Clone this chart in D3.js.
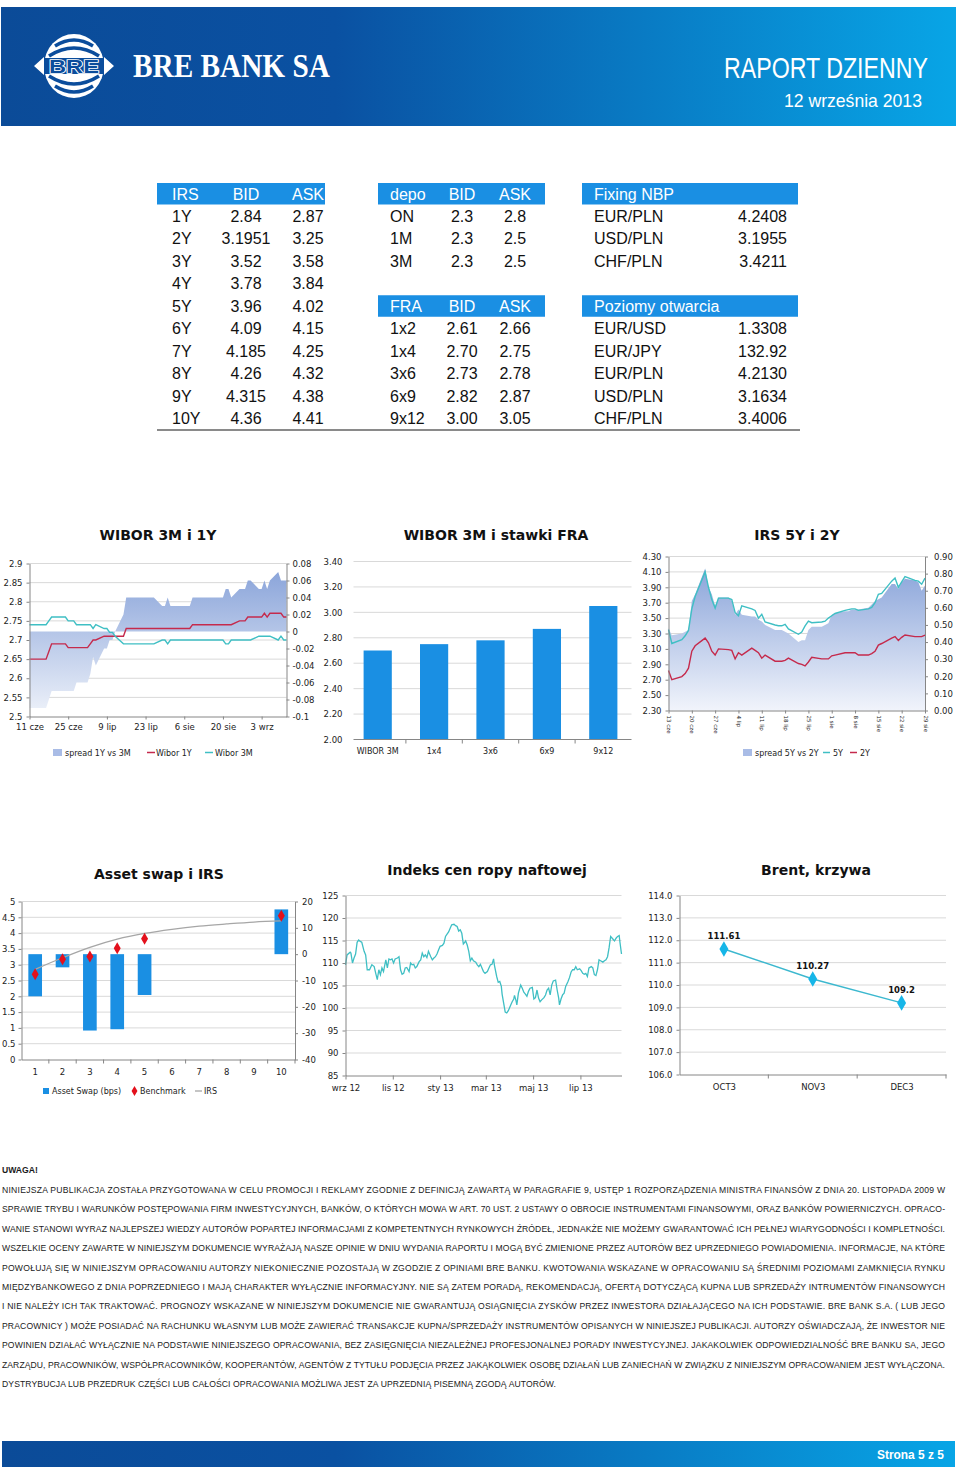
<!DOCTYPE html>
<html>
<head>
<meta charset="utf-8">
<script src="https://cdn.jsdelivr.net/npm/d3@7"></script>
<style>
  body { margin: 0; background: #fff; }
  svg { display: block; }
</style>
</head>
<body>
<svg id="page" width="960" height="1470"></svg>
<script>
// ---- tables ----
const irsTenor = ['1Y', '2Y', '3Y', '4Y', '5Y', '6Y', '7Y', '8Y', '9Y', '10Y'];
const irsBid = ['2.84', '3.1951', '3.52', '3.78', '3.96', '4.09', '4.185', '4.26', '4.315', '4.36'];
const irsAsk = ['2.87', '3.25', '3.58', '3.84', '4.02', '4.15', '4.25', '4.32', '4.38', '4.41'];
const depoTenor = ['ON', '1M', '3M'];
const depoBid = ['2.3', '2.3', '2.3'];
const depoAsk = ['2.8', '2.5', '2.5'];
const fraTenor = ['1x2', '1x4', '3x6', '6x9', '9x12'];
const fraBid = ['2.61', '2.70', '2.73', '2.82', '3.00'];
const fraAsk = ['2.66', '2.75', '2.78', '2.87', '3.05'];
const fixingPair = ['EUR/PLN', 'USD/PLN', 'CHF/PLN'];
const fixingRate = ['4.2408', '3.1955', '3.4211'];
const openPair = ['EUR/USD', 'EUR/JPY', 'EUR/PLN', 'USD/PLN', 'CHF/PLN'];
const openRate = ['1.3308', '132.92', '4.2130', '3.1634', '3.4006'];

// ---- WIBOR 3M i 1Y ----
const wiborDates = ['06-11', '06-12', '06-13', '06-14', '06-17', '06-18', '06-19', '06-20', '06-21', '06-24', '06-25', '06-26', '06-27', '06-28',
  '07-01', '07-02', '07-03', '07-04', '07-05', '07-08', '07-09', '07-10', '07-11', '07-12', '07-15', '07-16', '07-17', '07-18', '07-19',
  '07-22', '07-23', '07-24', '07-25', '07-26', '07-29', '07-30', '07-31',
  '08-01', '08-02', '08-05', '08-06', '08-07', '08-08', '08-09', '08-12', '08-13', '08-14', '08-16', '08-19', '08-20', '08-21', '08-22',
  '08-23', '08-26', '08-27', '08-28', '08-29', '08-30',
  '09-02', '09-03', '09-04', '09-05', '09-06', '09-09', '09-10', '09-11', '09-12'];
const wibor1Y = [2.65, 2.65, 2.65, 2.65, 2.65, 2.67, 2.69, 2.69, 2.69, 2.69, 2.68, 2.68, 2.68, 2.68,
  2.68, 2.68, 2.69, 2.70, 2.70, 2.71, 2.71, 2.71, 2.71, 2.71, 2.71, 2.73, 2.73, 2.73, 2.73,
  2.73, 2.73, 2.73, 2.73, 2.73, 2.73, 2.73, 2.73,
  2.73, 2.73, 2.73, 2.73, 2.73, 2.73, 2.74, 2.74, 2.74, 2.74, 2.74, 2.74, 2.74, 2.74, 2.74,
  2.74, 2.75, 2.75, 2.75, 2.76, 2.76,
  2.76, 2.76, 2.77, 2.76, 2.77, 2.77, 2.77, 2.76, 2.76];
const wibor3M = [2.74, 2.74, 2.74, 2.74, 2.74, 2.75, 2.76, 2.76, 2.76, 2.76, 2.75, 2.75, 2.75, 2.74,
  2.74, 2.74, 2.74, 2.73, 2.74, 2.73, 2.73, 2.72, 2.72, 2.71, 2.69, 2.69, 2.69, 2.69, 2.69,
  2.69, 2.69, 2.69, 2.69, 2.69, 2.70, 2.70, 2.69,
  2.70, 2.70, 2.70, 2.70, 2.70, 2.70, 2.70, 2.70, 2.70, 2.70, 2.70, 2.70, 2.70, 2.69, 2.69,
  2.70, 2.70, 2.70, 2.70, 2.70, 2.70,
  2.71, 2.71, 2.71, 2.71, 2.71, 2.70, 2.71, 2.70, 2.70];
const spread1Y3M = [-0.09, -0.09, -0.09, -0.09, -0.09, -0.08, -0.07, -0.07, -0.07, -0.07, -0.07, -0.07, -0.07, -0.06,
  -0.06, -0.06, -0.05, -0.03, -0.04, -0.02, -0.02, -0.01, -0.01, 0.00, 0.02, 0.04, 0.04, 0.04, 0.04,
  0.04, 0.04, 0.04, 0.04, 0.04, 0.03, 0.03, 0.04,
  0.03, 0.03, 0.03, 0.03, 0.03, 0.03, 0.04, 0.04, 0.04, 0.04, 0.04, 0.04, 0.04, 0.05, 0.05,
  0.04, 0.05, 0.05, 0.05, 0.06, 0.06,
  0.05, 0.05, 0.06, 0.05, 0.06, 0.07, 0.06, 0.06, 0.06];
const wiborTickDates = ['06-11', '06-25', '07-09', '07-23', '08-06', '08-20', '09-03'];
const wiborLeftTicks = [2.5, 2.55, 2.6, 2.65, 2.7, 2.75, 2.8, 2.85, 2.9];
const wiborRightTicks = [-0.1, -0.08, -0.06, -0.04, -0.02, 0, 0.02, 0.04, 0.06, 0.08];

// ---- WIBOR 3M i stawki FRA ----
const fraCategories = ['WIBOR 3M', '1x4', '3x6', '6x9', '9x12'];
const fraValues = [2.70, 2.75, 2.78, 2.87, 3.05];
const fraTicks = [2.0, 2.2, 2.4, 2.6, 2.8, 3.0, 3.2, 3.4];

// ---- IRS 5Y i 2Y ----
const irsDates = ['06-13', '06-14', '06-17', '06-18', '06-19', '06-20', '06-21', '06-24', '06-25', '06-26', '06-27', '06-28',
  '07-01', '07-02', '07-03', '07-04', '07-05', '07-08', '07-09', '07-10', '07-11', '07-12', '07-15', '07-16', '07-17', '07-18', '07-19',
  '07-22', '07-23', '07-24', '07-25', '07-26', '07-29', '07-30', '07-31',
  '08-01', '08-02', '08-05', '08-06', '08-07', '08-08', '08-09', '08-12', '08-13', '08-14', '08-15', '08-16', '08-19', '08-20', '08-21',
  '08-22', '08-23', '08-26', '08-27', '08-28', '08-29'];
const irs5Y = [3.35, 3.17, 3.22, 3.27, 3.34, 3.62, 3.78, 4.10, 3.90, 3.74,
  3.63, 3.76, 3.76, 3.74, 3.57, 3.53, 3.66, 3.62, 3.60, 3.50,
  3.55, 3.45, 3.41, 3.40, 3.40, 3.42, 3.36, 3.29, 3.32, 3.40,
  3.46, 3.44, 3.45, 3.46, 3.50, 3.53, 3.56, 3.60, 3.61, 3.62,
  3.62, 3.60, 3.62, 3.64, 3.70, 3.81, 3.82, 3.98, 4.02, 3.90,
  3.97, 4.04, 3.99, 3.98, 3.94, 4.02];
const irs2Y = [2.82, 2.70, 2.74, 2.78, 2.85, 3.07, 3.14, 3.24, 3.18, 3.07,
  3.02, 3.10, 3.09, 3.08, 2.97, 3.05, 3.02, 3.11, 3.08, 3.05,
  2.98, 3.02, 2.94, 2.94, 2.94, 2.95, 2.98, 2.91, 2.90, 2.88,
  2.93, 2.99, 2.97, 2.97, 2.97, 3.01, 3.02, 3.05, 3.05, 3.05,
  3.05, 3.02, 3.02, 3.04, 3.07, 3.15, 3.17, 3.24, 3.26, 3.21,
  3.25, 3.28, 3.26, 3.26, 3.26, 3.28];
const spread5Y2Y = [0.48, 0.44, 0.45, 0.46, 0.47, 0.64, 0.68, 0.83, 0.72, 0.68,
  0.61, 0.66, 0.66, 0.64, 0.56, 0.59, 0.56, 0.55, 0.55, 0.53,
  0.52, 0.50, 0.47, 0.47, 0.47, 0.46, 0.45, 0.40, 0.41, 0.41,
  0.47, 0.49, 0.49, 0.50, 0.51, 0.56, 0.57, 0.58, 0.58, 0.59,
  0.59, 0.59, 0.60, 0.62, 0.64, 0.65, 0.66, 0.74, 0.74, 0.71,
  0.75, 0.77, 0.76, 0.75, 0.70, 0.73];
const irsTickDates = ['06-13', '06-20', '06-27', '07-04', '07-11', '07-18', '07-25', '08-01', '08-08', '08-15', '08-22', '08-29'];
const irsLeftTicks = [2.3, 2.5, 2.7, 2.9, 3.1, 3.3, 3.5, 3.7, 3.9, 4.1, 4.3];
const irsRightTicks = [0, 0.1, 0.2, 0.3, 0.4, 0.5, 0.6, 0.7, 0.8, 0.9];

// ---- Asset swap i IRS ----
const aswTenor = [1, 2, 3, 4, 5, 6, 7, 8, 9, 10];
const aswBps = [-16, -5, -29, -28.5, -15.5, null, null, null, null, 17];
const aswBenchmark = [2.70, 3.17, 3.26, 3.52, 3.82, null, null, null, null, 4.55];
const aswIrs = [2.855, 3.22, 3.55, 3.81, 3.99, 4.12, 4.22, 4.29, 4.35, 4.385];
const aswLeftTicks = [0, 0.5, 1, 1.5, 2, 2.5, 3, 3.5, 4, 4.5, 5];
const aswRightTicks = [-40, -30, -20, -10, 0, 10, 20];

// ---- Indeks cen ropy naftowej (days counted from 1 wrz 2012) ----
const oilDay = [0, 2, 6, 7, 9, 11, 13, 15, 17, 19,
  21, 24, 26, 28, 31, 34, 37, 39, 41, 43,
  45, 47, 49, 52, 54, 56, 58, 60, 62, 64,
  67, 69, 71, 73, 75, 77, 79, 82, 84, 86,
  88, 90, 92, 95, 97, 99, 101, 103, 105, 107,
  110, 112, 114, 116, 118, 120, 122, 125, 127, 129,
  131, 133, 135, 137, 140, 142, 144, 146, 148, 150,
  152, 153, 155, 157, 159, 161, 163, 165, 168, 170,
  172, 174, 176, 178, 180, 183, 185, 187, 189, 191,
  192, 195, 197, 199, 201, 202, 204, 206, 208, 210,
  213, 215, 217, 218, 220, 221, 223, 226, 228, 230,
  232, 234, 236, 238, 241, 243, 245, 247, 249, 251,
  253, 256, 258, 260, 262, 264, 266, 268, 271, 273,
  275, 276, 278, 280, 282, 284, 287, 289, 291, 293,
  295, 297, 299, 302, 304, 306, 308, 310, 312, 314,
  317, 319, 321, 323, 325, 327, 329, 332, 334, 336,
  338, 340, 342, 344, 347, 349, 351, 353, 354, 356];
const oilPrice = [109.6, 111.8, 112.4, 112.2, 110.0, 111.1, 112.0, 114.6, 115.1, 114.8,
  114.6, 112.6, 111.8, 108.5, 108.5, 109.6, 109.2, 107.7, 106.3, 108.5,
  107.4, 108.9, 108.1, 110.7, 108.9, 110.9, 110.7, 110.9, 110.0, 110.9,
  111.1, 111.4, 108.5, 107.5, 107.7, 108.9, 109.0, 108.1, 110.0, 109.6,
  109.7, 108.9, 109.2, 110.3, 110.7, 112.2, 111.4, 111.8, 111.2, 112.6,
  111.4, 110.7, 111.1, 111.4, 112.0, 112.9, 113.7, 113.9, 114.4, 115.9,
  116.4, 116.9, 117.7, 118.5, 118.6, 118.3, 118.1, 117.1, 117.4, 116.6,
  114.2, 114.4, 114.9, 114.0, 112.6, 110.5, 111.1, 110.5, 110.2, 109.6,
  109.2, 109.7, 108.9, 108.1, 107.7, 108.1, 108.9, 109.6, 109.7, 110.9,
  109.6, 107.0, 105.7, 105.9, 104.8, 103.1, 101.1, 99.1, 98.9, 99.4,
  100.6, 101.4, 102.0, 102.8, 101.6, 100.7, 103.3, 105.1, 104.4, 103.5,
  103.1, 102.6, 103.7, 104.4, 104.6, 102.0, 102.3, 104.0, 102.2, 101.4,
  101.8, 102.3, 102.9, 104.0, 104.4, 102.9, 105.1, 106.0, 106.2, 104.0,
  102.2, 100.7, 102.0, 102.9, 103.3, 104.8, 105.9, 106.8, 108.0, 108.5,
  108.5, 109.2, 108.5, 108.7, 108.3, 107.7, 107.5, 107.7, 107.0, 108.9,
  109.2, 108.9, 107.4, 107.2, 108.5, 110.7, 110.5, 110.2, 110.5, 110.7,
  111.4, 113.4, 115.9, 115.5, 114.9, 115.5, 115.9, 116.1, 114.6, 112.0];
const oilTickDays = [0, 61, 122, 181, 242, 303];
const oilTickLabels = ['wrz 12', 'lis 12', 'sty 13', 'mar 13', 'maj 13', 'lip 13'];
const oilTicks = [85, 90, 95, 100, 105, 110, 115, 120, 125];

// ---- Brent, krzywa ----
const brentMonth = ['OCT3', 'NOV3', 'DEC3'];
const brentPrice = [111.61, 110.27, 109.2];
const brentLabel = ['111.61', '110.27', '109.2'];
const brentTicks = [106, 107, 108, 109, 110, 111, 112, 113, 114];

const disclaimer = [
  'NINIEJSZA PUBLIKACJA ZOSTAŁA PRZYGOTOWANA W CELU PROMOCJI I REKLAMY ZGODNIE Z DEFINICJĄ ZAWARTĄ W PARAGRAFIE 9, USTĘP 1 ROZPORZĄDZENIA MINISTRA FINANSÓW Z DNIA 20. LISTOPADA 2009 W',
  'SPRAWIE TRYBU I WARUNKÓW POSTĘPOWANIA FIRM INWESTYCYJNYCH, BANKÓW, O KTÓRYCH MOWA W ART. 70 UST. 2 USTAWY O OBROCIE INSTRUMENTAMI FINANSOWYMI, ORAZ BANKÓW POWIERNICZYCH. OPRACO-',
  'WANIE STANOWI WYRAZ NAJLEPSZEJ WIEDZY AUTORÓW POPARTEJ INFORMACJAMI Z KOMPETENTNYCH RYNKOWYCH ŹRÓDEŁ, JEDNAKŻE NIE MOŻEMY GWARANTOWAĆ ICH PEŁNEJ WIARYGODNOŚCI I KOMPLETNOŚCI.',
  'WSZELKIE OCENY ZAWARTE W NINIEJSZYM DOKUMENCIE WYRAŻAJĄ NASZE OPINIE W DNIU WYDANIA RAPORTU I MOGĄ BYĆ ZMIENIONE PRZEZ AUTORÓW BEZ UPRZEDNIEGO POWIADOMIENIA. INFORMACJE, NA KTÓRE',
  'POWOŁUJĄ SIĘ W NINIEJSZYM OPRACOWANIU AUTORZY NIEKONIECZNIE POZOSTAJĄ W ZGODZIE Z OPINIAMI BRE BANKU. KWOTOWANIA WSKAZANE W OPRACOWANIU SĄ ŚREDNIMI POZIOMAMI ZAMKNIĘCIA RYNKU',
  'MIĘDZYBANKOWEGO Z DNIA POPRZEDNIEGO I MAJĄ CHARAKTER WYŁĄCZNIE INFORMACYJNY. NIE SĄ ZATEM PORADĄ, REKOMENDACJĄ, OFERTĄ DOTYCZĄCĄ KUPNA LUB SPRZEDAŻY INTRUMENTÓW FINANSOWYCH',
  'I NIE NALEŻY ICH TAK TRAKTOWAĆ. PROGNOZY WSKAZANE W NINIEJSZYM DOKUMENCIE NIE GWARANTUJĄ OSIĄGNIĘCIA ZYSKÓW PRZEZ INWESTORA DZIAŁAJĄCEGO NA ICH PODSTAWIE. BRE BANK S.A. ( LUB JEGO',
  'PRACOWNICY ) MOŻE POSIADAĆ NA RACHUNKU WŁASNYM LUB MOŻE ZAWIERAĆ TRANSAKCJE KUPNA/SPRZEDAŻY INSTRUMENTÓW OPISANYCH W NINIEJSZEJ PUBLIKACJI. AUTORZY OŚWIADCZAJĄ, ŻE INWESTOR NIE',
  'POWINIEN DZIAŁAĆ WYŁĄCZNIE NA PODSTAWIE NINIEJSZEGO OPRACOWANIA, BEZ ZASIĘGNIĘCIA NIEZALEŻNEJ PROFESJONALNEJ PORADY INWESTYCYJNEJ. JAKAKOLWIEK ODPOWIEDZIALNOŚĆ BRE BANKU SA, JEGO',
  'ZARZĄDU, PRACOWNIKÓW, WSPÓŁPRACOWNIKÓW, KOOPERANTÓW, AGENTÓW Z TYTUŁU PODJĘCIA PRZEZ JAKĄKOLWIEK OSOBĘ DZIAŁAŃ LUB ZANIECHAŃ W ZWIĄZKU Z NINIEJSZYM OPRACOWANIEM JEST WYŁĄCZONA.',
  'DYSTRYBUCJA LUB PRZEDRUK CZĘŚCI LUB CAŁOŚCI OPRACOWANIA MOŻLIWA JEST ZA UPRZEDNIĄ PISEMNĄ ZGODĄ AUTORÓW.'
];

const svg = d3.select('#page');
const defs = svg.append('defs');
const FONT = '"DejaVu Sans", Verdana, sans-serif';
const SANS = '"Liberation Sans", Arial, sans-serif';
const AXIS = '#868686';
const GRID = '#d9d9d9';
const BLUE = '#1a8fe3';
const RED = '#c52a4c';
const CYAN = '#3fbfc4';
const plMonths = ['sty', 'lut', 'mar', 'kwi', 'maj', 'cze', 'lip', 'sie', 'wrz', 'paź', 'lis', 'gru'];
const parseDay = s => new Date(2013, +s.slice(0, 2) - 1, +s.slice(3, 5));
const fmtDay = d => d.getDate() + ' ' + plMonths[d.getMonth()];

function styleAxis(g, size = 8.5) {
  g.selectAll('text').attr('font-family', FONT).attr('font-size', size).attr('fill', '#222');
  g.selectAll('.tick line').attr('stroke', AXIS);
  g.select('.domain').attr('stroke', AXIS);
}

function gridLines(g, y, ticks, x0, x1) {
  g.append('g').selectAll('line').data(ticks).join('line')
    .attr('x1', x0).attr('x2', x1)
    .attr('y1', d => y(d)).attr('y2', d => y(d))
    .attr('stroke', GRID);
}

function chartTitle(text, x, y) {
  svg.append('text').attr('x', x).attr('y', y).attr('text-anchor', 'middle')
    .attr('font-family', FONT).attr('font-weight', 'bold').attr('font-size', 14).attr('fill', '#111')
    .text(text);
}

function legendText(g, text, x, y) {
  g.append('text').attr('x', x).attr('y', y).attr('font-family', FONT).attr('font-size', 8)
    .attr('fill', '#222').text(text);
}

function gradient(id, top, bottom) {
  const lg = defs.append('linearGradient').attr('id', id).attr('x1', 0).attr('y1', 0).attr('x2', 0).attr('y2', 1);
  lg.append('stop').attr('offset', '0%').attr('stop-color', top);
  lg.append('stop').attr('offset', '100%').attr('stop-color', bottom);
}

// squeezed text: natural font, scaled horizontally to the given width
function narrowText(x, y, width, size, family, weight, text) {
  const t = svg.append('text').attr('font-family', family).attr('font-weight', weight)
    .attr('font-size', size).attr('fill', '#fff').text(text);
  const w = t.node().getComputedTextLength();
  t.attr('transform', `translate(${x},${y}) scale(${width / w},1)`);
  return t;
}

// ---------------- header / footer ----------------
function drawHeader() {
  const hg = defs.append('linearGradient').attr('id', 'band').attr('x1', 0).attr('x2', 1).attr('y1', 0).attr('y2', 0);
  hg.append('stop').attr('offset', '0%').attr('stop-color', '#0b4b98');
  hg.append('stop').attr('offset', '35%').attr('stop-color', '#0a51a2');
  hg.append('stop').attr('offset', '100%').attr('stop-color', '#08a5e6');

  svg.append('rect').attr('x', 1).attr('y', 7).attr('width', 955).attr('height', 119).attr('fill', 'url(#band)');

  // logo
  const logo = svg.append('g').attr('transform', 'translate(74,66)');
  logo.append('ellipse').attr('rx', 30).attr('ry', 32).attr('fill', '#fff');
  const arcs = ['M-19,-20 Q0,-32 19,-20', 'M-25,-10 Q0,-26 25,-10', 'M-19,20 Q0,32 19,20', 'M-25,10 Q0,26 25,10'];
  logo.selectAll('path.arc').data(arcs).join('path').attr('class', 'arc').attr('d', d => d)
    .attr('fill', 'none').attr('stroke', '#0b4d9c').attr('stroke-width', 3.5);
  logo.append('rect').attr('x', -31).attr('y', -8).attr('width', 62).attr('height', 16).attr('fill', '#0b4d9c');
  logo.append('path').attr('d', 'M-40,0 L-30,-9 L-30,9 Z M40,0 L30,-9 L30,9 Z').attr('fill', '#fff');
  logo.append('text').attr('x', 0).attr('y', 6.5).attr('text-anchor', 'middle')
    .attr('font-family', SANS).attr('font-weight', 'bold').attr('font-size', 18)
    .attr('textLength', 50).attr('lengthAdjust', 'spacingAndGlyphs')
    .attr('fill', '#0b4d9c').attr('stroke', '#fff').attr('stroke-width', 1.6).attr('paint-order', 'stroke')
    .text('BRE');

  narrowText(133, 77, 197, 33, '"Liberation Serif", "Times New Roman", serif', 'bold', 'BRE BANK SA');
  narrowText(724, 78, 204, 29, SANS, 'normal', 'RAPORT DZIENNY');
  narrowText(784, 107, 138, 18, SANS, 'normal', '12 września 2013');
}

function drawFooter() {
  svg.append('rect').attr('x', 2).attr('y', 1441).attr('width', 953).attr('height', 26).attr('fill', 'url(#band)');
  narrowText(877, 1459, 67, 12, SANS, 'bold', 'Strona 5 z 5');
}

// ---------------- tables ----------------
const rowY = d3.scaleLinear().domain([0, 10]).range([193.5, 418]);

function drawTable(x0, x1, startRow, cols, header, columns) {
  const g = svg.append('g').attr('font-family', SANS).attr('font-size', 16);
  g.append('rect').attr('x', x0).attr('y', rowY(startRow) - 10.5).attr('width', x1 - x0).attr('height', 21.5)
    .attr('fill', BLUE);
  cols.forEach((c, j) => {
    g.append('text').attr('x', c.x).attr('y', rowY(startRow) + 6).attr('text-anchor', c.anchor)
      .attr('fill', '#fff').text(header[j]);
    g.selectAll(null).data(columns[j]).join('text')
      .attr('x', c.x).attr('y', (d, i) => rowY(startRow + 1 + i) + 6).attr('text-anchor', c.anchor)
      .attr('fill', '#111').text(d => d);
  });
}

function drawTables() {
  const three = (a, b, c) => [{ x: a, anchor: 'start' }, { x: b, anchor: 'middle' }, { x: c, anchor: 'middle' }];
  drawTable(157, 325, 0, three(172, 246, 308), ['IRS', 'BID', 'ASK'], [irsTenor, irsBid, irsAsk]);
  drawTable(378, 545, 0, three(390, 462, 515), ['depo', 'BID', 'ASK'], [depoTenor, depoBid, depoAsk]);
  drawTable(378, 545, 5, three(390, 462, 515), ['FRA', 'BID', 'ASK'], [fraTenor, fraBid, fraAsk]);
  const two = [{ x: 594, anchor: 'start' }, { x: 787, anchor: 'end' }];
  drawTable(582, 798, 0, two, ['Fixing NBP', ''], [fixingPair, fixingRate]);
  drawTable(582, 798, 5, two, ['Poziomy otwarcia', ''], [openPair, openRate]);
  svg.append('line').attr('x1', 157).attr('x2', 800).attr('y1', 430).attr('y2', 430)
    .attr('stroke', '#8a8a8a').attr('stroke-width', 2);
}

// ---------------- chart 1: WIBOR 3M i 1Y ----------------
function wiborChart() {
  chartTitle('WIBOR 3M i 1Y', 158, 540);
  const g = svg.append('g');
  const L = 29.5, R = 286.5, T = 563.5, B = 716.5;
  const dates = wiborDates.map(parseDay);
  const x = d3.scaleTime().domain([parseDay('06-11'), parseDay('09-12')]).range([L, R]);
  const y = d3.scaleLinear().domain([2.5, 2.9]).range([B, T]);
  const yr = d3.scaleLinear().domain([-0.1, 0.08]).range([B, T]);

  gridLines(g, y, wiborLeftTicks.slice(1), L, R);
  gradient('gradWibor', '#8ba5da', '#e9eef8');
  g.append('path').datum(spread1Y3M)
    .attr('d', d3.area().x((d, i) => x(dates[i])).y0(yr(0)).y1(d => yr(d)))
    .attr('fill', 'url(#gradWibor)');

  const line = d3.line().x((d, i) => x(dates[i])).y(d => y(d));
  g.append('path').datum(wibor1Y).attr('d', line).attr('fill', 'none').attr('stroke', RED).attr('stroke-width', 1.4);
  g.append('path').datum(wibor3M).attr('d', line).attr('fill', 'none').attr('stroke', CYAN).attr('stroke-width', 1.4);

  g.append('g').attr('transform', `translate(${L},0)`)
    .call(d3.axisLeft(y).tickValues(wiborLeftTicks).tickFormat(d => String(d)).tickSize(3).tickSizeOuter(0).tickPadding(4))
    .call(styleAxis);
  g.append('g').attr('transform', `translate(${R},0)`)
    .call(d3.axisRight(yr).tickValues(wiborRightTicks).tickFormat(d => String(d)).tickSize(3).tickSizeOuter(0).tickPadding(3))
    .call(styleAxis);
  g.append('g').attr('transform', `translate(0,${B})`)
    .call(d3.axisBottom(x).tickValues(wiborTickDates.map(parseDay)).tickFormat(fmtDay).tickSize(3).tickSizeOuter(0).tickPadding(4))
    .call(styleAxis);

  const lg = svg.append('g');
  lg.append('rect').attr('x', 53).attr('y', 749).attr('width', 9).attr('height', 7).attr('fill', '#a9bce6');
  legendText(lg, 'spread 1Y vs 3M', 65, 756);
  lg.append('line').attr('x1', 147).attr('x2', 155).attr('y1', 752.5).attr('y2', 752.5).attr('stroke', RED).attr('stroke-width', 1.5);
  legendText(lg, 'Wibor 1Y', 156, 756);
  lg.append('line').attr('x1', 205).attr('x2', 213).attr('y1', 752.5).attr('y2', 752.5).attr('stroke', CYAN).attr('stroke-width', 1.5);
  legendText(lg, 'Wibor 3M', 215, 756);
}

// ---------------- chart 2: WIBOR 3M i stawki FRA ----------------
function fraChart() {
  chartTitle('WIBOR 3M i stawki FRA', 496, 540);
  const g = svg.append('g');
  const L = 349.5, R = 631.5, T = 561.5, B = 739.5;
  const x = d3.scaleBand().domain(fraCategories).range([L, R]).paddingInner(0.5).paddingOuter(0.25);
  const y = d3.scaleLinear().domain([2.0, 3.4]).range([B, T]);
  gridLines(g, y, fraTicks.slice(1), L + 4, R);
  g.selectAll('rect.bar').data(fraValues).join('rect').attr('class', 'bar')
    .attr('x', (d, i) => x(fraCategories[i])).attr('width', x.bandwidth())
    .attr('y', d => y(d)).attr('height', d => y(2.0) - y(d)).attr('fill', BLUE);

  g.append('g').attr('transform', `translate(${L + 4},0)`)
    .call(d3.axisLeft(y).tickValues(fraTicks).tickFormat(d3.format('.2f')).tickSize(0).tickPadding(11))
    .call(styleAxis).call(a => a.select('.domain').remove());
  const xa = g.append('g').attr('transform', `translate(0,${B})`)
    .call(d3.axisBottom(x).tickSize(0).tickPadding(9))
    .call(styleAxis).call(a => a.selectAll('text').attr('font-size', 8));
  xa.select('.domain').attr('d', `M${L + 4},0H${R}`);
  xa.selectAll('line.sep').data(fraCategories.slice(1)).join('line').attr('class', 'sep')
    .attr('x1', d => x(d) - x.step() * 0.25).attr('x2', d => x(d) - x.step() * 0.25)
    .attr('y1', 0).attr('y2', 4).attr('stroke', AXIS);
}

// ---------------- chart 3: IRS 5Y i 2Y ----------------
function irsChart() {
  chartTitle('IRS 5Y i 2Y', 797, 540);
  const g = svg.append('g');
  const L = 668.5, R = 925, T = 556.5, B = 710.5;
  const dates = irsDates.map(parseDay);
  const x = d3.scaleTime().domain([parseDay('06-13'), parseDay('08-29')]).range([L, R]);
  const y = d3.scaleLinear().domain([2.3, 4.3]).range([B, T]);
  const yr = d3.scaleLinear().domain([0, 0.9]).range([B, T]);

  gridLines(g, y, irsLeftTicks.slice(1), L, R);
  gradient('gradIrs', '#8ba5da', '#f1f4fb');
  g.append('path').datum(spread5Y2Y)
    .attr('d', d3.area().x((d, i) => x(dates[i])).y0(yr(0)).y1(d => yr(d)))
    .attr('fill', 'url(#gradIrs)');
  const line = d3.line().x((d, i) => x(dates[i])).y(d => y(d));
  g.append('path').datum(irs5Y).attr('d', line).attr('fill', 'none').attr('stroke', CYAN).attr('stroke-width', 1.4);
  g.append('path').datum(irs2Y).attr('d', line).attr('fill', 'none').attr('stroke', RED).attr('stroke-width', 1.4);

  g.append('g').attr('transform', `translate(${L},0)`)
    .call(d3.axisLeft(y).tickValues(irsLeftTicks).tickFormat(d3.format('.2f')).tickSize(3).tickSizeOuter(0).tickPadding(4))
    .call(styleAxis);
  g.append('g').attr('transform', `translate(${R},0)`)
    .call(d3.axisRight(yr).tickValues(irsRightTicks).tickFormat(d3.format('.2f')).tickSize(3).tickSizeOuter(0).tickPadding(6))
    .call(styleAxis);
  const xa = g.append('g').attr('transform', `translate(0,${B})`)
    .call(d3.axisBottom(x).tickValues(irsTickDates.map(parseDay)).tickFormat(fmtDay).tickSize(3).tickSizeOuter(0))
    .call(styleAxis);
  xa.selectAll('.tick text').attr('font-size', 5.5).attr('text-anchor', 'start')
    .attr('y', 0).attr('dy', 0).attr('dominant-baseline', 'central')
    .attr('transform', 'translate(0,5) rotate(90)');

  const lg = svg.append('g');
  lg.append('rect').attr('x', 743).attr('y', 749).attr('width', 9).attr('height', 7).attr('fill', '#a9bce6');
  legendText(lg, 'spread 5Y vs 2Y', 755, 756);
  lg.append('line').attr('x1', 823).attr('x2', 830).attr('y1', 752.5).attr('y2', 752.5).attr('stroke', CYAN).attr('stroke-width', 1.5);
  legendText(lg, '5Y', 833, 756);
  lg.append('line').attr('x1', 850).attr('x2', 857).attr('y1', 752.5).attr('y2', 752.5).attr('stroke', RED).attr('stroke-width', 1.5);
  legendText(lg, '2Y', 860, 756);
}

// ---------------- chart 4: Asset swap i IRS ----------------
function aswChart() {
  chartTitle('Asset swap i IRS', 159, 879);
  const g = svg.append('g');
  const L = 21.5, R = 295, T = 901.5, B = 1059.5;
  const x = d3.scaleBand().domain(aswTenor).range([L, R]).paddingInner(0.5).paddingOuter(0.25);
  const y = d3.scaleLinear().domain([0, 5]).range([B, T]);
  const yr = d3.scaleLinear().domain([-40, 20]).range([B, T]);
  const cx = d => x(d) + x.bandwidth() / 2;

  gridLines(g, y, aswLeftTicks.slice(1), L, R);
  g.selectAll('rect.bar').data(aswTenor.filter((d, i) => aswBps[i] !== null)).join('rect').attr('class', 'bar')
    .attr('x', d => x(d)).attr('width', x.bandwidth())
    .attr('y', d => Math.min(yr(0), yr(aswBps[d - 1])))
    .attr('height', d => Math.abs(yr(aswBps[d - 1]) - yr(0)))
    .attr('fill', BLUE);
  g.append('path').datum(aswIrs)
    .attr('d', d3.line().x((d, i) => cx(aswTenor[i])).y(d => y(d)).curve(d3.curveCatmullRom))
    .attr('fill', 'none').attr('stroke', '#a6a6a6').attr('stroke-width', 1.3);
  g.selectAll('path.bm').data(aswTenor.filter((d, i) => aswBenchmark[i] !== null)).join('path').attr('class', 'bm')
    .attr('transform', d => `translate(${cx(d)},${y(aswBenchmark[d - 1])})`)
    .attr('d', d3.symbol(d3.symbolDiamond, 42)).attr('fill', '#e3101c');

  g.append('g').attr('transform', `translate(${L},0)`)
    .call(d3.axisLeft(y).tickValues(aswLeftTicks).tickFormat(d => String(d)).tickSize(3).tickSizeOuter(0).tickPadding(3))
    .call(styleAxis);
  g.append('g').attr('transform', `translate(${R},0)`)
    .call(d3.axisRight(yr).tickValues(aswRightTicks).tickFormat(d => String(d)).tickSize(3).tickSizeOuter(0).tickPadding(4))
    .call(styleAxis);
  const xa = g.append('g').attr('transform', `translate(0,${B})`)
    .call(d3.axisBottom(x).tickSize(0).tickSizeOuter(0).tickPadding(9))
    .call(styleAxis);
  xa.selectAll('line.sep').data(aswTenor).join('line').attr('class', 'sep')
    .attr('x1', d => cx(d) + x.step() / 2).attr('x2', d => cx(d) + x.step() / 2)
    .attr('y1', 0).attr('y2', 4).attr('stroke', AXIS);

  const lg = svg.append('g');
  lg.append('rect').attr('x', 43).attr('y', 1088).attr('width', 6).attr('height', 6).attr('fill', BLUE);
  legendText(lg, 'Asset Swap (bps)', 52, 1094);
  lg.append('path').attr('transform', 'translate(134.5,1091)').attr('d', d3.symbol(d3.symbolDiamond, 30)).attr('fill', '#e3101c');
  legendText(lg, 'Benchmark', 140, 1094);
  lg.append('line').attr('x1', 195).attr('x2', 202).attr('y1', 1091).attr('y2', 1091).attr('stroke', '#a6a6a6').attr('stroke-width', 1.3);
  legendText(lg, 'IRS', 204, 1094);
}

// ---------------- chart 5: Indeks cen ropy naftowej ----------------
function oilChart() {
  chartTitle('Indeks cen ropy naftowej', 487, 875);
  const g = svg.append('g');
  const L = 345.5, R = 621.5, T = 895.5, B = 1075.5;
  const day = d => new Date(2012, 8, 1 + d);
  const x = d3.scaleTime().domain([day(0), day(356)]).range([L, R]);
  const y = d3.scaleLinear().domain([85, 125]).range([B, T]);

  gridLines(g, y, oilTicks.slice(1), L, R);
  g.append('path').datum(oilPrice)
    .attr('d', d3.line().x((d, i) => x(day(oilDay[i]))).y(d => y(d)))
    .attr('fill', 'none').attr('stroke', CYAN).attr('stroke-width', 1.3);

  g.append('g').attr('transform', `translate(${L},0)`)
    .call(d3.axisLeft(y).tickValues(oilTicks).tickSize(3).tickSizeOuter(0).tickPadding(4))
    .call(styleAxis);
  g.append('g').attr('transform', `translate(0,${B})`)
    .call(d3.axisBottom(x).tickValues(oilTickDays.map(day)).tickFormat((d, i) => oilTickLabels[i])
      .tickSize(4).tickSizeOuter(0).tickPadding(5))
    .call(styleAxis);
}

// ---------------- chart 6: Brent, krzywa ----------------
function brentChart() {
  chartTitle('Brent, krzywa', 816, 875);
  const g = svg.append('g');
  const L = 679.5, R = 946, T = 895.5, B = 1074.5;
  const x = d3.scalePoint().domain(brentMonth).range([L, R]).padding(0.5);
  const y = d3.scaleLinear().domain([106, 114]).range([B, T]);

  gridLines(g, y, brentTicks.slice(1), L, R);
  g.append('path').datum(brentPrice)
    .attr('d', d3.line().x((d, i) => x(brentMonth[i])).y(d => y(d)))
    .attr('fill', 'none').attr('stroke', '#3cb8cf').attr('stroke-width', 1.4);
  g.selectAll('path.pt').data(brentPrice).join('path').attr('class', 'pt')
    .attr('transform', (d, i) => `translate(${x(brentMonth[i])},${y(d)})`)
    .attr('d', d3.symbol(d3.symbolDiamond, 70)).attr('fill', '#16b6e8');
  g.selectAll('text.lbl').data(brentPrice).join('text').attr('class', 'lbl')
    .attr('x', (d, i) => x(brentMonth[i])).attr('y', d => y(d) - 10)
    .attr('text-anchor', 'middle').attr('font-family', FONT).attr('font-weight', 'bold').attr('font-size', 8.5)
    .attr('fill', '#111').text((d, i) => brentLabel[i]);

  g.append('g').attr('transform', `translate(${L},0)`)
    .call(d3.axisLeft(y).tickValues(brentTicks).tickFormat(d3.format('.1f')).tickSize(3).tickSizeOuter(0).tickPadding(4))
    .call(styleAxis);
  const xa = g.append('g').attr('transform', `translate(0,${B})`)
    .call(d3.axisBottom(x).tickSize(0).tickSizeOuter(0).tickPadding(9))
    .call(styleAxis);
  xa.selectAll('line.sep').data(brentMonth).join('line').attr('class', 'sep')
    .attr('x1', d => x(d) + x.step() / 2).attr('x2', d => x(d) + x.step() / 2)
    .attr('y1', 0).attr('y2', 4).attr('stroke', AXIS);
}

// ---------------- disclaimer ----------------
function drawDisclaimer() {
  const g = svg.append('g').attr('font-family', SANS).attr('fill', '#1a1a1a');
  g.append('text').attr('x', 2).attr('y', 1173).attr('font-size', 8.6).attr('font-weight', 'bold').text('UWAGA!');
  const lineY = d3.scaleLinear().domain([0, 10]).range([1193, 1387]);
  g.selectAll('text.ln').data(disclaimer).join('text').attr('class', 'ln')
    .attr('x', 2).attr('y', (d, i) => lineY(i)).attr('font-size', 8.6)
    .attr('textLength', (d, i) => i < disclaimer.length - 1 ? 943 : 554)
    .attr('lengthAdjust', 'spacing')
    .text(d => d);
}

drawHeader();
drawTables();
wiborChart();
fraChart();
irsChart();
aswChart();
oilChart();
brentChart();
drawDisclaimer();
drawFooter();
</script>
</body>
</html>
